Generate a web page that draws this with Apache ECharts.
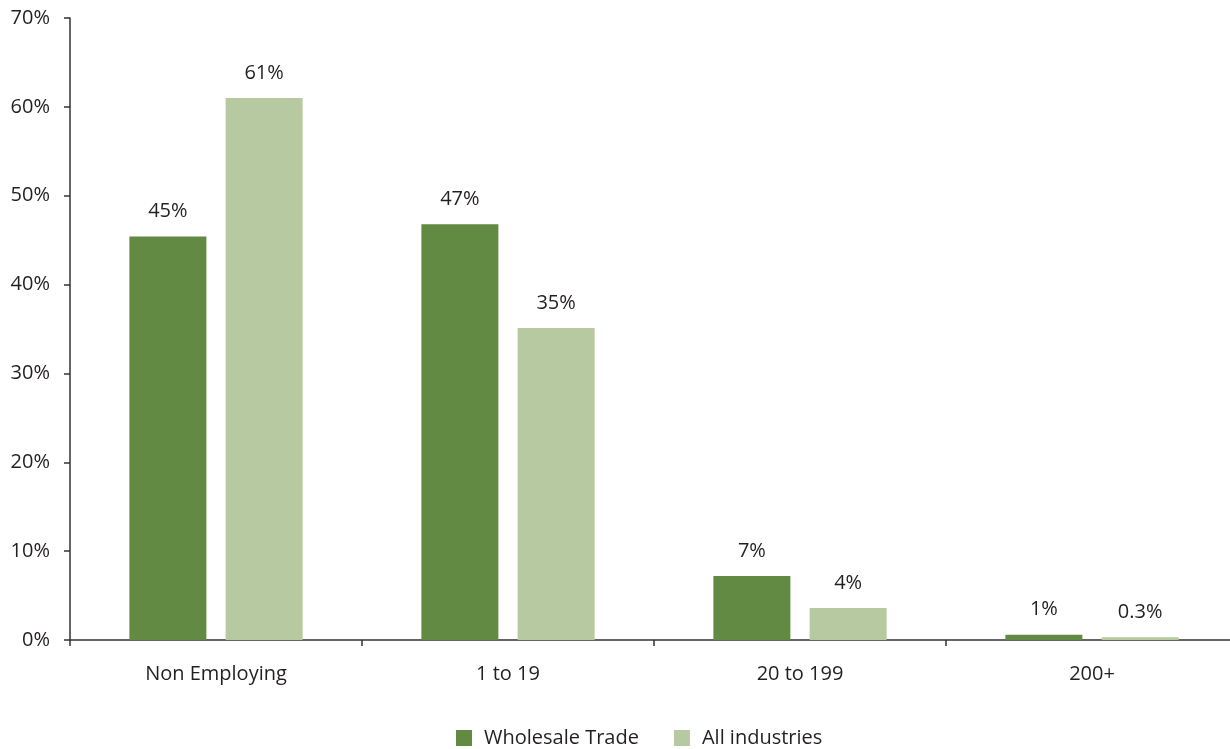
<!DOCTYPE html>
<html><head><meta charset="utf-8">
<script src="https://cdn.jsdelivr.net/npm/echarts@6/dist/echarts.min.js"></script>
<style>html,body{margin:0;padding:0;background:#fff}#c{width:1230px;height:749px}</style>
</head><body><div id="c"></div>
<script>
var categories = ['Non Employing', '1 to 19', '20 to 199', '200+'];
var wholesale = [45.4, 46.8, 7.2, 0.6];
var allInd = [61.0, 35.1, 3.6, 0.3];
var wholesaleLabels = ['45%', '47%', '7%', '1%'];
var allIndLabels = ['61%', '35%', '4%', '0.3%'];
var yTicks = [0, 10, 20, 30, 40, 50, 60, 70];

var font = '"Open Sans", "Noto Sans", sans-serif';
var txt = '#231f20';
var chart = echarts.init(document.getElementById('c'));
chart.setOption({
  animation: false,
  textStyle: {fontFamily: font},
  grid: {left: 70, top: 18, right: -8, bottom: 109, containLabel: false, outerBoundsMode: 'none'},
  legend: {
    top: 723, left: 451, itemWidth: 16, itemHeight: 16, itemGap: 35,
    icon: 'rect',
    textStyle: {fontFamily: font, fontSize: 20, color: txt, padding: [0, 0, 0, 7]},
    data: ['Wholesale Trade', 'All industries']
  },
  xAxis: {
    type: 'category', data: categories,
    axisLine: {lineStyle: {color: '#333', width: 1.5}},
    axisTick: {show: true, length: 6, lineStyle: {color: '#333', width: 1.5}},
    axisLabel: {fontFamily: font, fontSize: 20, color: txt, margin: 24}
  },
  yAxis: {
    type: 'value', min: yTicks[0], max: yTicks[yTicks.length - 1], interval: 10,
    splitLine: {show: false},
    axisLine: {show: true, lineStyle: {color: '#333', width: 1.5}},
    axisTick: {show: true, length: 6, lineStyle: {color: '#333', width: 1.5}},
    axisLabel: {fontFamily: font, fontSize: 20, color: txt, margin: 20, formatter: '{value}%'}
  },
  series: [
    {
      name: 'Wholesale Trade', type: 'bar', data: wholesale, barWidth: 77, barGap: '25%',
      itemStyle: {color: '#638a43'},
      label: {show: true, position: 'top', distance: 15, fontFamily: font, fontSize: 20, color: txt,
        formatter: function (p) { return wholesaleLabels[p.dataIndex]; }}
    },
    {
      name: 'All industries', type: 'bar', data: allInd, barWidth: 77,
      itemStyle: {color: '#b7c9a1'},
      label: {show: true, position: 'top', distance: 15, fontFamily: font, fontSize: 20, color: txt,
        formatter: function (p) { return allIndLabels[p.dataIndex]; }}
    }
  ]
});
</script></body></html>
